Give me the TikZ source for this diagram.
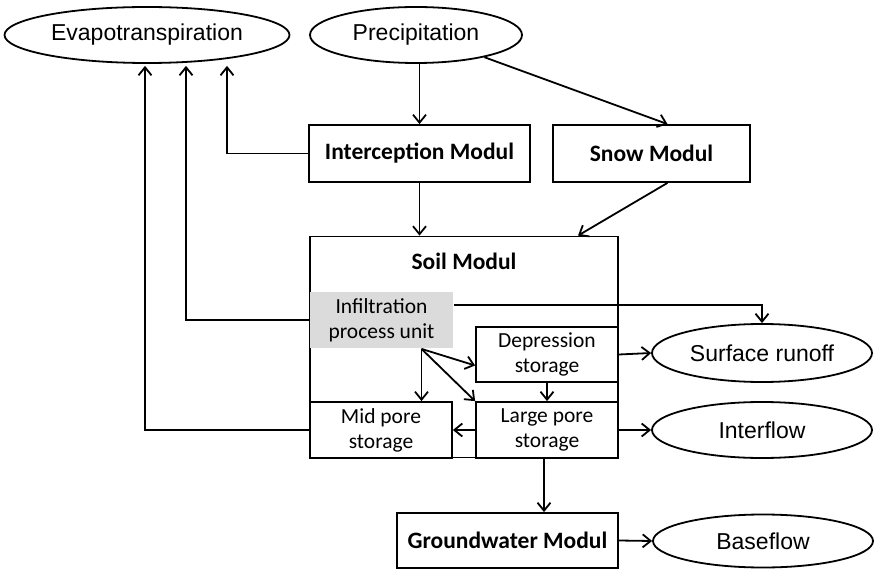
\documentclass[tikz,border=0pt]{standalone}
\usepackage{fontspec}
\setmainfont{Liberation Sans}
\newfontfamily\calibri{Carlito}
\usetikzlibrary{arrows.meta,positioning,shapes.geometric}

\begin{document}
\begin{tikzpicture}[x=1pt,y=-1pt,line width=1.8pt,
  flux/.style={ellipse,draw,inner sep=0pt,font=\fontsize{23}{27}\selectfont},
  modul/.style={rectangle,draw,inner sep=0pt,font=\calibri\bfseries\fontsize{23.5}{27}\selectfont},
  store/.style={rectangle,draw,inner sep=0pt,align=center,font=\calibri\fontsize{21.5}{25}\selectfont},
  arr/.style={-{Straight Barb[length=8pt,width=13pt]}}]
  \useasboundingbox (0,0) rectangle (875,569);
  % fluxes (ellipses)
  \node[flux,minimum width=285,minimum height=56] (evap) at (147,35) {Evapotranspiration};
  \node[flux,minimum width=212,minimum height=56] (prec) at (416,35) {Precipitation};
  \node[flux,minimum width=220,minimum height=58] (surf) at (762,353) {Surface runoff};
  \node[flux,minimum width=220,minimum height=56] (intf) at (762,430) {Interflow};
  \node[flux,minimum width=220,minimum height=53] (base) at (763,541) {Baseflow};
  % modules
  \node[modul,minimum width=221,minimum height=57] (icpt) at (419.5,153.5) {Interception Modul};
  \node[modul,minimum width=197,minimum height=57] (snow) at (651.5,153.5) {Snow Modul};
  \node[modul,minimum width=308,minimum height=221] (soil) at (464,347) {};
  \node[font=\calibri\bfseries\fontsize{23.5}{27}\selectfont] (soilname) at (464,261) {Soil Modul};
  \node[modul,minimum width=221,minimum height=55] (gw) at (507.5,540.5) {Groundwater Modul};
  % storages inside the soil module
  \node[store,draw=none,fill=black!14,minimum width=143,minimum height=56] (infl) at (381.5,320) {Infiltration\\process unit};
  \node[store,minimum width=142,minimum height=55] (depr) at (547,354.5) {Depression\\storage};
  \node[store,minimum width=142,minimum height=56] (large) at (547,430) {Large pore\\storage};
  \node[store,minimum width=142,minimum height=56] (mid) at (381,430) {Mid pore\\storage};
  \coordinate (fork) at ([xshift=40pt]infl.south);
  % vertical inputs
  \draw[arr] (icpt.north |- prec.south) -- (icpt.north);
  \draw[arr] (prec.-18) -- ([xshift=16pt]snow.north);
  \draw[arr] (icpt.south) -- (icpt.south |- soil.north);
  \draw[arr] ([xshift=16pt]snow.south) -- ([xshift=114pt]soil.north);
  % evapotranspiration losses
  \draw[arr,shorten >=2pt] (icpt.west) -| ([xshift=80pt]evap.south);
  \draw[arr,shorten >=2pt] (infl.west) -| ([xshift=39pt]evap.south);
  \draw[arr,shorten >=2pt] (mid.west) -| ([xshift=-2pt]evap.south);
  % soil internals
  \draw[arr] ([yshift=15pt]infl.east) -| (surf.north);
  \draw[arr] (fork) -- (fork |- mid.north);
  \draw[arr] (fork) -- ([yshift=-11pt]depr.west);
  \draw[arr] (fork) -- (large.north west);
  \draw[arr] (depr.south) -- (large.north);
  \draw[arr] (large.west) -- (mid.east);
  % outflows
  \draw[arr] (depr.east) -- (surf.west);
  \draw[arr] (large.east) -- (intf.west);
  \draw[arr] ([xshift=-3pt]large.south) -- ([xshift=-3pt]large.south |- gw.north);
  \draw[arr] (gw.east) -- (base.west);
\end{tikzpicture}
\end{document}
